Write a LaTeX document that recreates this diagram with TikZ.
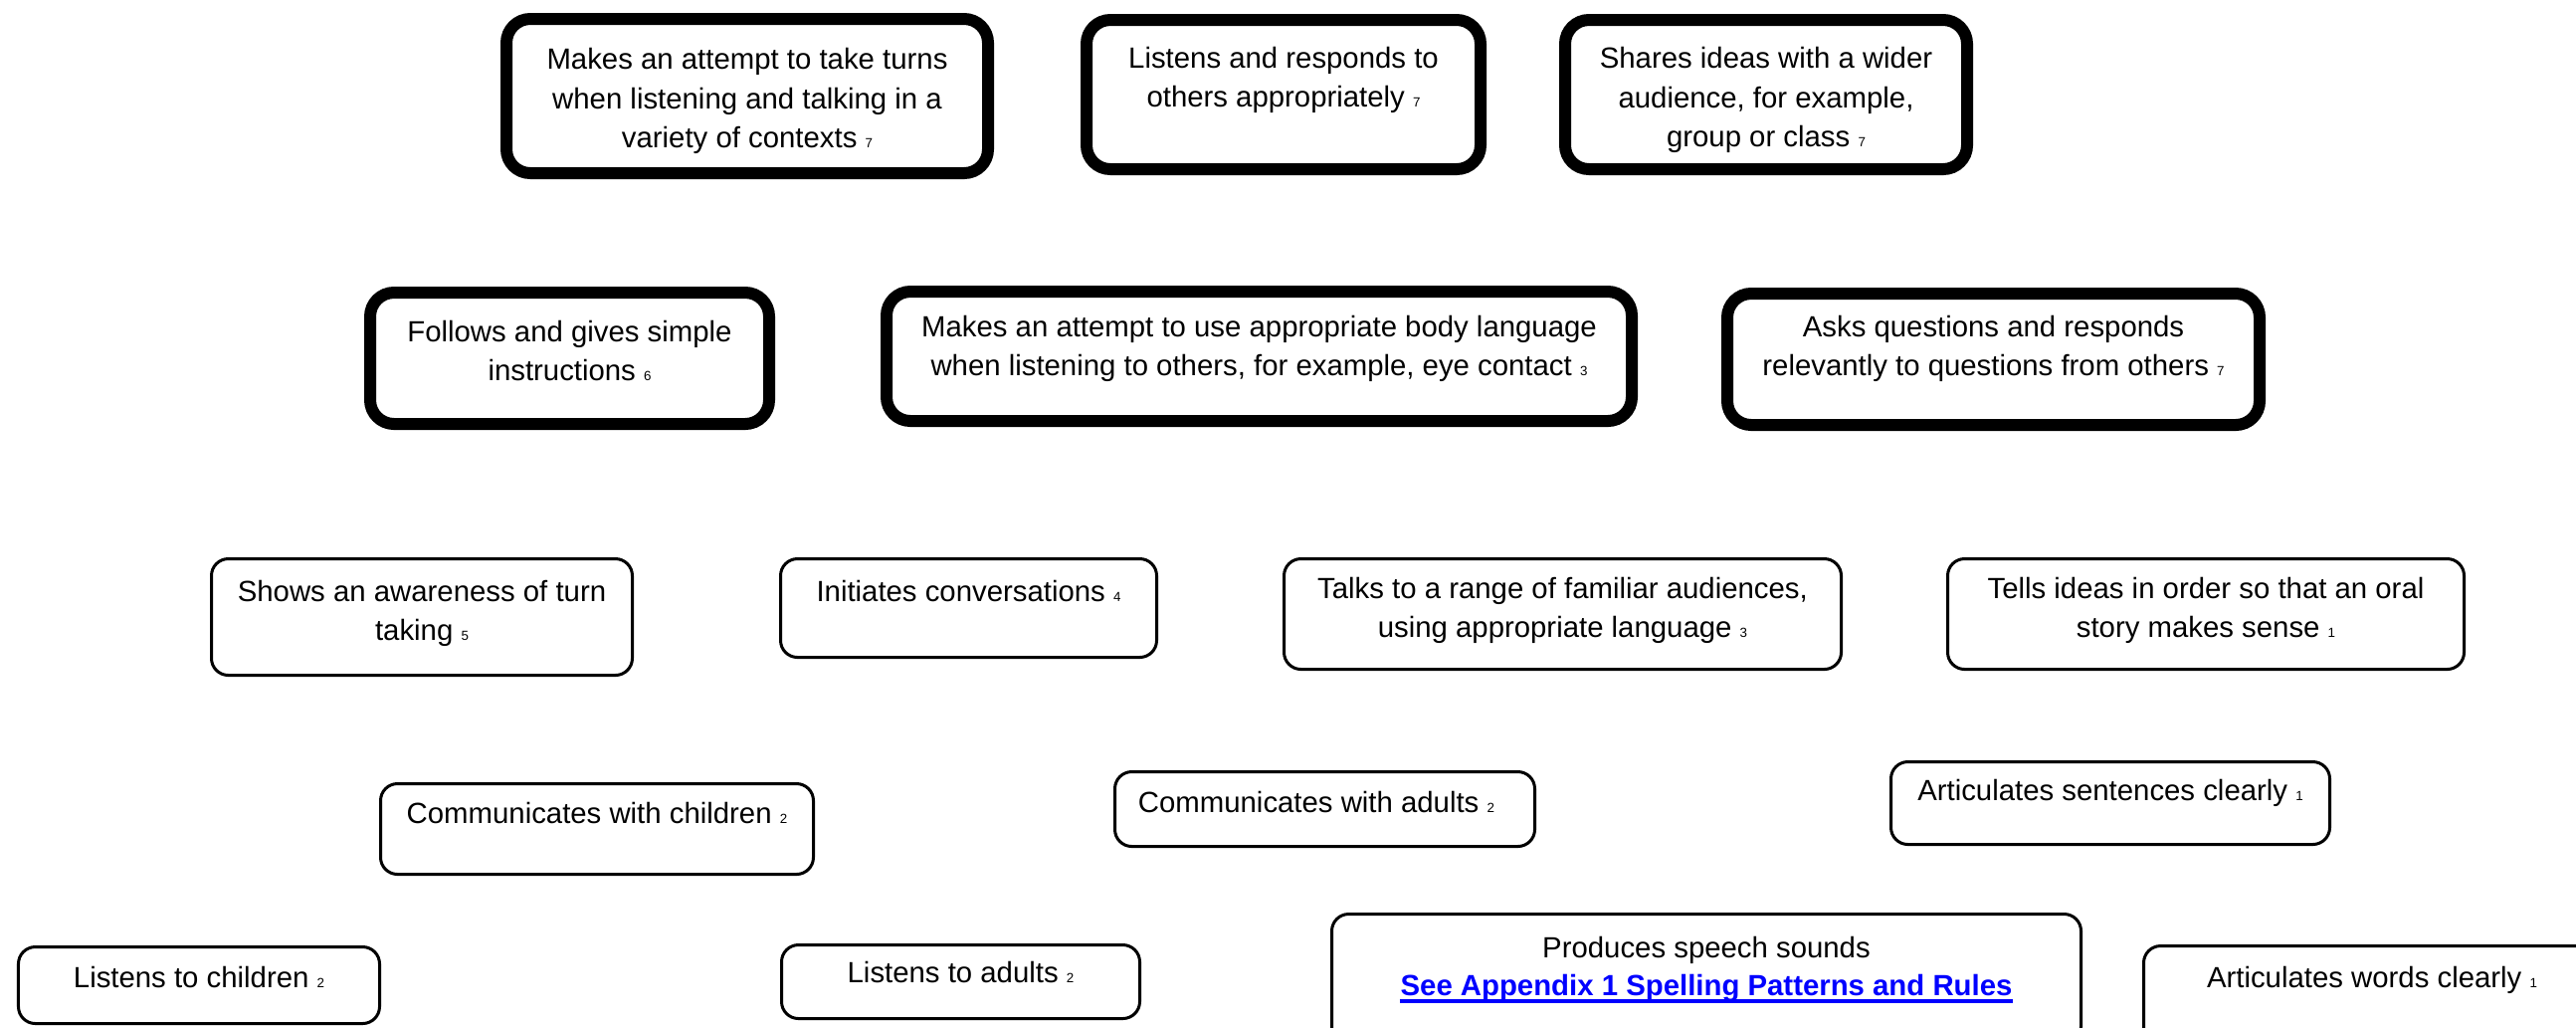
\documentclass[tikz,border=0pt]{standalone}
\usepackage{fontspec}
\setmainfont{Liberation Sans}
\newcommand\sn[1]{{\fontsize{3.8}{4}\selectfont #1}}
\tikzset{
  thickbox/.style={draw, line width=0.12cm, rounded corners=0.24cm, inner sep=0pt},
  thinbox/.style={draw, line width=0.03cm, rounded corners=0.17cm, inner sep=0pt},
  txt/.style={inner sep=0pt, align=center, font=\fontsize{8.35}{11.1}\selectfont, anchor=base},
  linktxt/.style={inner sep=0pt, text=linkblue, font=\fontsize{8.35}{11.1}\selectfont\bfseries, anchor=base},
}
\definecolor{linkblue}{RGB}{0,0,255}
\begin{document}
\begin{tikzpicture}
\clip (0,0) rectangle (25.89,-10.32);
% row 1 (thick)
\node[thickbox, minimum width=4.84cm, minimum height=1.55cm] (bA) at (7.51,-0.965) {};
\node[thickbox, minimum width=3.96cm, minimum height=1.50cm] (bB) at (12.90,-0.95) {};
\node[thickbox, minimum width=4.04cm, minimum height=1.50cm] (bC) at (17.75,-0.95) {};
\node[txt] (tA) at (7.51,-1.48) {Makes an attempt to take turns\\when listening and talking in a\\variety of contexts \sn{7}};
\node[txt] (tB) at (12.90,-1.07) {Listens and responds to\\others appropriately \sn{7}};
\node[txt] (tC) at (17.75,-1.47) {Shares ideas with a wider\\audience, for example,\\group or class \sn{7}};
% row 2 (thick)
\node[thickbox, minimum width=4.01cm, minimum height=1.32cm] (bD) at (5.725,-3.60) {};
\node[thickbox, minimum width=7.49cm, minimum height=1.30cm] (bE) at (12.655,-3.58) {};
\node[thickbox, minimum width=5.35cm, minimum height=1.32cm] (bF) at (20.035,-3.61) {};
\node[txt] (tD) at (5.725,-3.82) {Follows and gives simple\\instructions \sn{6}};
\node[txt] (tE) at (12.655,-3.77) {Makes an attempt to use appropriate body language\\when listening to others, for example, eye contact \sn{3}};
\node[txt] (tF) at (20.035,-3.77) {Asks questions and responds\\relevantly to questions from others \sn{7}};
% row 3
\node[thinbox, minimum width=4.23cm, minimum height=1.17cm] (bG) at (4.24,-6.20) {};
\node[thinbox, minimum width=3.78cm, minimum height=0.99cm] (bH) at (9.735,-6.11) {};
\node[thinbox, minimum width=5.60cm, minimum height=1.11cm] (bI) at (15.705,-6.17) {};
\node[thinbox, minimum width=5.19cm, minimum height=1.11cm] (bJ) at (22.17,-6.17) {};
\node[txt] (tG) at (4.24,-6.43) {Shows an awareness of turn\\taking \sn{5}};
\node[txt] (tH) at (9.735,-6.04) {Initiates conversations \sn{4}};
\node[txt] (tI) at (15.705,-6.40) {Talks to a range of familiar audiences,\\using appropriate language \sn{3}};
\node[txt] (tJ) at (22.17,-6.40) {Tells ideas in order so that an oral\\story makes sense \sn{1}};
% row 4
\node[thinbox, minimum width=4.35cm, minimum height=0.91cm] (bK) at (6.00,-8.33) {};
\node[thinbox, minimum width=4.22cm, minimum height=0.75cm] (bL) at (13.315,-8.13) {};
\node[thinbox, minimum width=4.41cm, minimum height=0.83cm] (bM) at (21.21,-8.07) {};
\node[txt] (tK) at (6.00,-8.27) {Communicates with children \sn{2}};
\node[txt] (tL) at (13.23,-8.16) {Communicates with adults \sn{2}};
\node[txt] (tM) at (21.21,-8.04) {Articulates sentences clearly \sn{1}};
% row 5
\node[thinbox, minimum width=3.63cm, minimum height=0.77cm] (bN) at (2.00,-9.90) {};
\node[thinbox, minimum width=3.60cm, minimum height=0.74cm] (bO) at (9.655,-9.865) {};
\node[thinbox, minimum width=7.53cm, minimum height=1.30cm] (bP) at (17.15,-9.835) {};
\node[thinbox, minimum width=4.59cm, minimum height=1.08cm] (bQ) at (23.84,-10.045) {};
\node[txt] (tN) at (2.00,-9.92) {Listens to children \sn{2}};
\node[txt] (tO) at (9.655,-9.87) {Listens to adults \sn{2}};
\node[txt] (tP) at (17.15,-9.62) {Produces speech sounds};
\node[linktxt] (tPl) at (17.15,-10.00) {See Appendix 1 Spelling Patterns and Rules};
\draw[linkblue, line width=0.035cm] ([yshift=-0.06cm]tPl.base west) -- ([yshift=-0.06cm]tPl.base east);
\node[txt] (tQ) at (23.84,-9.92) {Articulates words clearly \sn{1}};
\end{tikzpicture}
\end{document}
